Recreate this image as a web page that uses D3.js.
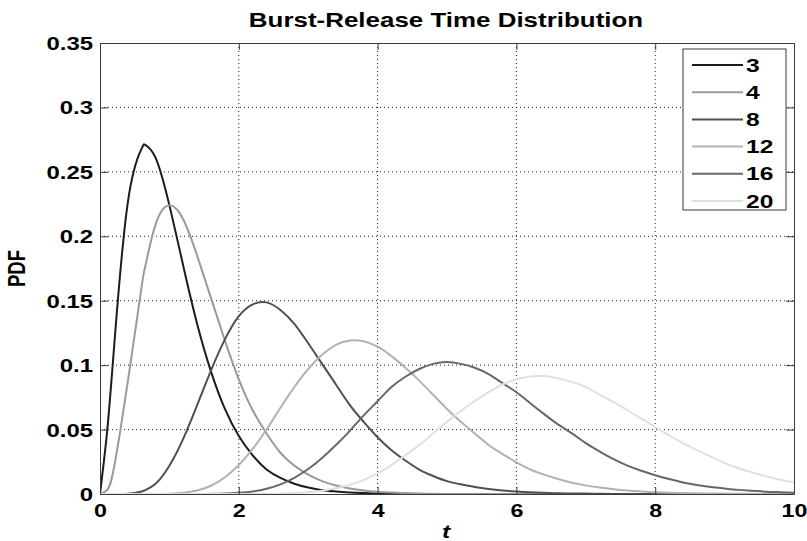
<!DOCTYPE html>
<html>
<head>
<meta charset="utf-8">
<script src="https://cdn.jsdelivr.net/npm/d3@7"></script>
<style>
    body { margin: 0; background: #fff; }
    text { font-family: "Liberation Sans", Arial, sans-serif; font-weight: bold; fill: #000; }
</style>
</head>
<body>
<div class="canvas"></div>
<script>
// t values the curves were read at
const tValues = [0, 0.1, 0.2, 0.4, 0.6, 0.65, 0.8, 1.0, 1.2, 1.4, 1.6,
    1.8, 2.0, 2.2, 2.4, 2.6, 2.8, 3.0, 3.2, 3.4, 3.6,
    3.8, 4.0, 4.2, 4.4, 4.6, 4.8, 5.0, 5.2, 5.4, 5.6,
    5.8, 6.0, 6.2, 6.4, 6.6, 6.8, 7.0, 7.2, 7.4, 7.6,
    7.8, 8.0, 8.2, 8.4, 8.6, 8.8, 9.0, 9.2, 9.4, 9.6,
    9.8, 10.0];

// PDF values, one array per legend entry
const pdf3 = [0, 0.047, 0.112, 0.226, 0.268, 0.271, 0.261, 0.224, 0.177, 0.132, 0.095,
    0.066, 0.045, 0.030, 0.019, 0.0125, 0.008, 0.005, 0.003, 0.002, 0.0012,
    0.0007, 0.0004, 0.0002, 0, 0, 0, 0, 0, 0, 0,
    0, 0, 0, 0, 0, 0, 0, 0, 0, 0,
    0, 0, 0, 0, 0, 0, 0, 0, 0, 0,
    0, 0];
const pdf4 = [0, 0.003, 0.020, 0.087, 0.161, 0.176, 0.209, 0.224, 0.213, 0.185, 0.152,
    0.119, 0.089, 0.065, 0.047, 0.032, 0.022, 0.015, 0.010, 0.0066, 0.0043,
    0.0028, 0.0018, 0.0011, 0.0007, 0.0004, 0.0002, 0, 0, 0, 0,
    0, 0, 0, 0, 0, 0, 0, 0, 0, 0,
    0, 0, 0, 0, 0, 0, 0, 0, 0, 0,
    0, 0];
const pdf8 = [0, 0, 0, 0.0002, 0.002, 0.003, 0.008, 0.022, 0.043, 0.069, 0.096,
    0.120, 0.138, 0.1472, 0.1487, 0.1428, 0.132, 0.117, 0.101, 0.085, 0.069,
    0.056, 0.044, 0.034, 0.026, 0.019, 0.014, 0.010, 0.0075, 0.0054, 0.0038,
    0.0027, 0.0019, 0.0013, 0.0009, 0.0006, 0.0004, 0.0003, 0.0002, 0, 0,
    0, 0, 0, 0, 0, 0, 0, 0, 0, 0,
    0, 0];
const pdf12 = [0, 0, 0, 0, 0, 0, 0, 0.0002, 0.0009, 0.0027, 0.0064,
    0.013, 0.0225, 0.035, 0.050, 0.067, 0.083, 0.097, 0.108, 0.1158, 0.1192,
    0.1186, 0.1144, 0.107, 0.098, 0.088, 0.077, 0.066, 0.056, 0.047, 0.038,
    0.031, 0.0245, 0.019, 0.015, 0.0116, 0.0088, 0.0067, 0.005, 0.0037, 0.0027,
    0.002, 0.0014, 0.001, 0.0007, 0.0005, 0.0004, 0.0003, 0.0002, 0.0001, 0.0001,
    0.0001, 0.0001];
const pdf16 = [0, 0, 0, 0, 0, 0, 0, 0, 0, 0, 0.0001,
    0.0003, 0.0009, 0.002, 0.0041, 0.0075, 0.0126, 0.0194, 0.028, 0.038, 0.049,
    0.061, 0.072, 0.083, 0.091, 0.097, 0.101, 0.1025, 0.101, 0.098, 0.093,
    0.086, 0.079, 0.0705, 0.062, 0.054, 0.047, 0.0395, 0.033, 0.027, 0.022,
    0.018, 0.0146, 0.0116, 0.009, 0.007, 0.0055, 0.0043, 0.0032, 0.0025, 0.0018,
    0.0014, 0.001];
const pdf20 = [0, 0, 0, 0, 0, 0, 0, 0, 0, 0, 0,
    0, 0, 0, 0, 0.0003, 0.0007, 0.0014, 0.0026, 0.0045, 0.0072,
    0.011, 0.016, 0.0224, 0.030, 0.038, 0.047, 0.056, 0.0645, 0.072, 0.079,
    0.085, 0.089, 0.0912, 0.0915, 0.0898, 0.087, 0.083, 0.077, 0.0715, 0.065,
    0.0585, 0.052, 0.0455, 0.0395, 0.034, 0.029, 0.024, 0.020, 0.0167, 0.0137,
    0.011, 0.009];

const seriesNames = ['3', '4', '8', '12', '16', '20'];
const seriesValues = [pdf3, pdf4, pdf8, pdf12, pdf16, pdf20];
const seriesColors = ['#1c1c1c', '#9a9a9a', '#505050', '#b2b2b2', '#686868', '#e0e0e0'];

const xTicks = [0, 2, 4, 6, 8, 10];
const yTicks = [0, 0.05, 0.1, 0.15, 0.2, 0.25, 0.3, 0.35];

// the picture is stretched sideways, so text gets widened too
const stretch = 1.33;

const margin = { top: 43, right: 13, bottom: 47, left: 100 };
const graphWidth = 807 - margin.left - margin.right;
const graphHeight = 541 - margin.top - margin.bottom;

const svg = d3.select('.canvas')
    .append('svg')
    .attr('width', 807)
    .attr('height', 541);

const graph = svg.append('g')
    .attr('transform', `translate(${margin.left}, ${margin.top})`);

const x = d3.scaleLinear().domain([0, 10]).range([0, graphWidth]);
const y = d3.scaleLinear().domain([0, 0.35]).range([graphHeight, 0]);

// dotted grid
graph.append('g')
    .selectAll('line')
    .data(xTicks.slice(1, -1))
    .enter().append('line')
        .attr('x1', d => x(d)).attr('x2', d => x(d))
        .attr('y1', 0).attr('y2', graphHeight)
        .attr('stroke', '#222')
        .attr('stroke-dasharray', '1,3');

graph.append('g')
    .selectAll('line')
    .data(yTicks.slice(1, -1))
    .enter().append('line')
        .attr('x1', 0).attr('x2', graphWidth)
        .attr('y1', d => y(d)).attr('y2', d => y(d))
        .attr('stroke', '#222')
        .attr('stroke-dasharray', '1,3');

// curves
graph.append('clipPath').attr('id', 'plot-clip')
    .append('rect')
    .attr('width', graphWidth)
    .attr('height', graphHeight);

const line = d3.line()
    .x(d => x(d[0]))
    .y(d => y(d[1]))
    .curve(d3.curveNatural);

graph.append('g')
    .attr('clip-path', 'url(#plot-clip)')
    .selectAll('path')
    .data(seriesValues)
    .enter().append('path')
        .attr('d', vals => line(tValues.map((t, i) => [t, vals[i]])))
        .attr('fill', 'none')
        .attr('stroke', (d, i) => seriesColors[i])
        .attr('stroke-width', 2);

// axes, ticks pointing inwards on all four sides
const xAxis = d3.axisBottom(x).tickValues(xTicks).tickSize(-7).tickSizeOuter(0).tickPadding(0);
const yAxis = d3.axisLeft(y).tickValues(yTicks).tickSize(-8).tickSizeOuter(0)
    .tickFormat(d => d === 0 ? '0' : d3.format('.2~f')(d));

const xAxisGroup = graph.append('g')
    .attr('transform', `translate(0, ${graphHeight})`)
    .call(xAxis);
const yAxisGroup = graph.append('g').call(yAxis);

graph.append('g')
    .attr('transform', `translate(${graphWidth}, 0)`)
    .call(d3.axisRight(y).tickValues(yTicks).tickSize(-8).tickSizeOuter(0).tickFormat(''));
graph.append('g')
    .call(d3.axisTop(x).tickValues(xTicks).tickSize(-7).tickSizeOuter(0).tickFormat(''));

graph.selectAll('.domain, .tick line').attr('stroke', '#3a3a3a');

xAxisGroup.selectAll('text')
    .attr('y', 0).attr('dy', null)
    .attr('transform', `translate(0, 23) scale(${stretch}, 1)`)
    .style('font-size', '17.5px');
yAxisGroup.selectAll('text')
    .attr('x', 0).attr('dy', null)
    .attr('transform', `translate(-7, 6.5) scale(${stretch}, 1)`)
    .style('font-size', '18px');
graph.selectAll('.tick text').attr('font-family', null).attr('font-size', null);

// title and axis labels
svg.append('text')
    .attr('text-anchor', 'middle')
    .attr('transform', `translate(446, 27) scale(${stretch}, 1)`)
    .style('font-size', '19.5px')
    .text('Burst-Release Time Distribution');

svg.append('text')
    .attr('text-anchor', 'middle')
    .attr('transform', `translate(25, ${margin.top + graphHeight / 2}) rotate(-90) scale(1, ${stretch})`)
    .style('font-size', '18.5px')
    .text('PDF');

svg.append('text')
    .attr('text-anchor', 'middle')
    .attr('transform', `translate(446, 538) scale(${stretch}, 1)`)
    .style('font-size', '18.5px')
    .style('font-style', 'italic')
    .text('t');

// legend
const legend = svg.append('g').attr('transform', 'translate(683, 49)');
legend.append('rect')
    .attr('width', 103)
    .attr('height', 161)
    .attr('fill', '#fff')
    .attr('stroke', '#3a3a3a');

const rows = legend.selectAll('g.row')
    .data(seriesNames)
    .enter().append('g')
        .attr('class', 'row')
        .attr('transform', (d, i) => `translate(0, ${16 + i * 27.2})`);

rows.append('line')
    .attr('x1', 9).attr('x2', 60)
    .attr('stroke', (d, i) => seriesColors[i])
    .attr('stroke-width', 2);

rows.append('text')
    .attr('transform', `translate(63, 6.5) scale(${stretch}, 1)`)
    .style('font-size', '18.5px')
    .text(d => d);
</script>
</body>
</html>
